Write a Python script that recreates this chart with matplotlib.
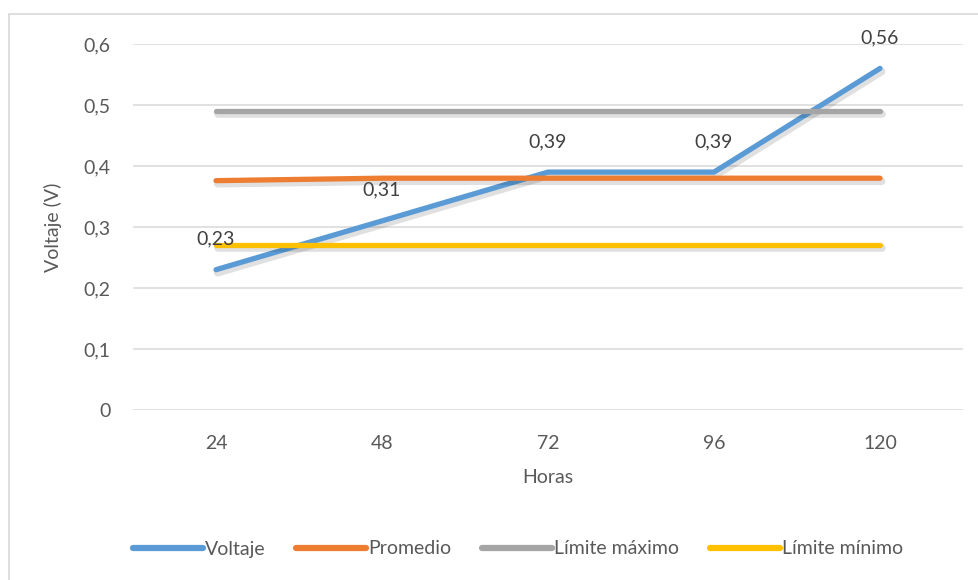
import matplotlib
matplotlib.use("Agg")
import matplotlib.pyplot as plt
import matplotlib.patheffects as pe
from matplotlib.patches import Rectangle

# Data
horas = ["24", "48", "72", "96", "120"]
voltaje = [0.23, 0.31, 0.39, 0.39, 0.56]
promedio = [0.376, 0.38, 0.38, 0.38, 0.38]
limite_max = [0.49, 0.49, 0.49, 0.49, 0.49]
limite_min = [0.27, 0.27, 0.27, 0.27, 0.27]
y_ticks = [0, 0.1, 0.2, 0.3, 0.4, 0.5, 0.6]
y_tick_labels = ["0", "0,1", "0,2", "0,3", "0,4", "0,5", "0,6"]

plt.rcParams["font.family"] = ["Lato", "DejaVu Sans"]
text_color = "#595959"
fs = 14

W, H, DPI = 979, 580, 100
fig = plt.figure(figsize=(W / DPI, H / DPI), dpi=DPI)
fig.patch.set_facecolor("white")

# chart border
fig.add_artist(Rectangle((9 / W, -0.05), 1.2, 1.05 - 14 / H, transform=fig.transFigure,
                         fill=False, edgecolor="#D9D9D9", linewidth=1.2))

left, right = 133 / W, 963 / W
bottom, top = (H - 410) / H, (H - 44) / H
ax = fig.add_axes([left, bottom, right - left, top - bottom])

x = list(range(len(horas)))
shadow = [pe.SimpleLineShadow(offset=(1.2, -2.2), shadow_color="#000000", alpha=0.12, linewidth=5.5),
          pe.Normal()]

series = [
    (voltaje, "#5B9BD5", "Voltaje"),
    (promedio, "#ED7D31", "Promedio"),
    (limite_max, "#A5A5A5", "Límite máximo"),
    (limite_min, "#FFC000", "Límite mínimo"),
]
lines = []
for vals, color, name in series:
    ln, = ax.plot(x, vals, color=color, linewidth=3.8, solid_capstyle="round",
                  solid_joinstyle="round", label=name, path_effects=shadow, zorder=3)
    lines.append(ln)
# draw Voltaje beneath the other series
lines[0].set_zorder(2)

for xi, v in zip(x, voltaje):
    ax.annotate(f"{v:.2f}".replace(".", ","), (xi, v), xytext=(0, 22), textcoords="offset points",
                ha="center", va="center", fontsize=fs, color="#404040", zorder=5)

ax.set_xlim(-0.5, len(horas) - 0.5)
ax.set_ylim(0, 0.6)
ax.set_yticks(y_ticks)
ax.set_yticklabels(y_tick_labels)
ax.set_xticks(x)
ax.set_xticklabels(horas)
ax.tick_params(axis="both", length=0, labelsize=fs, labelcolor=text_color)
ax.tick_params(axis="y", pad=16)
ax.tick_params(axis="x", pad=18)
ax.grid(axis="y", color="#D9D9D9", linewidth=1.1)
ax.set_axisbelow(True)
for s in ax.spines.values():
    s.set_visible(False)

ax.set_xlabel("Horas", fontsize=fs, color=text_color)
ax.xaxis.set_label_coords(0.5, -(469 - 410) / (410 - 44))
ax.set_ylabel("Voltaje (V)", fontsize=fs, color=text_color)
ax.yaxis.set_label_coords((62 - 133) / (963 - 133), (410 - 227) / (410 - 44))

leg_handles = [plt.Line2D([], [], color=c, linewidth=4.5, solid_capstyle="round") for _, c, _ in series]
fig.legend(leg_handles, [n for _, _, n in series], loc="center", bbox_to_anchor=(518 / W, (H - 549) / H),
           ncol=4, frameon=False, fontsize=fs, labelcolor=text_color, handlelength=3.6,
           handletextpad=0.1, columnspacing=1.6)

fig.savefig("out.png", dpi=DPI)
